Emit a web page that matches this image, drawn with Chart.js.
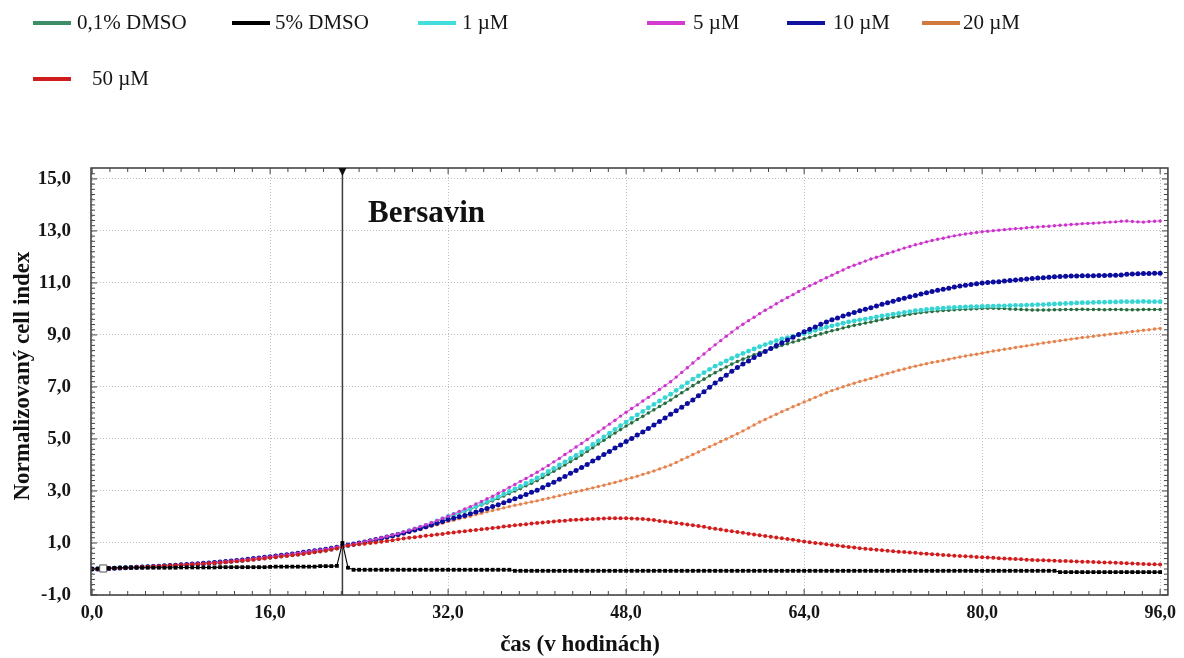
<!DOCTYPE html>
<html>
<head>
<meta charset="utf-8">
<script src="https://cdn.jsdelivr.net/npm/chart.js@4.4.1/dist/chart.umd.min.js"></script>
<style>
  html, body { margin: 0; padding: 0; background: #fff; }
  #wrap { position: relative; width: 1184px; height: 658px; overflow: hidden; }
  #graf { position: absolute; left: 0; top: 0; }
  .leg-line { position: absolute; width: 38px; height: 4px; }
  .leg-text { position: absolute; font-family: "Liberation Serif", "Times New Roman", serif;
              font-size: 21px; line-height: 22px; color: #151515; white-space: nowrap; }
</style>
</head>
<body>
<div id="wrap">
  <canvas id="graf" width="1184" height="658"></canvas>
</div>
<script>
// cas merania (hodiny)
var casy = [
  0, 0.5, 1, 1.5, 2, 2.5, 3, 3.5, 4, 4.5, 5, 5.5, 6, 6.5, 7, 7.5,
  8, 8.5, 9, 9.5, 10, 10.5, 11, 11.5, 12, 12.5, 13, 13.5, 14, 14.5, 15, 15.5,
  16, 16.5, 17, 17.5, 18, 18.5, 19, 19.5, 20, 20.5, 21, 21.5, 22, 22.5, 23, 23.5,
  24, 24.5, 25, 25.5, 26, 26.5, 27, 27.5, 28, 28.5, 29, 29.5, 30, 30.5, 31, 31.5,
  32, 32.5, 33, 33.5, 34, 34.5, 35, 35.5, 36, 36.5, 37, 37.5, 38, 38.5, 39, 39.5,
  40, 40.5, 41, 41.5, 42, 42.5, 43, 43.5, 44, 44.5, 45, 45.5, 46, 46.5, 47, 47.5,
  48, 48.5, 49, 49.5, 50, 50.5, 51, 51.5, 52, 52.5, 53, 53.5, 54, 54.5, 55, 55.5,
  56, 56.5, 57, 57.5, 58, 58.5, 59, 59.5, 60, 60.5, 61, 61.5, 62, 62.5, 63, 63.5,
  64, 64.5, 65, 65.5, 66, 66.5, 67, 67.5, 68, 68.5, 69, 69.5, 70, 70.5, 71, 71.5,
  72, 72.5, 73, 73.5, 74, 74.5, 75, 75.5, 76, 76.5, 77, 77.5, 78, 78.5, 79, 79.5,
  80, 80.5, 81, 81.5, 82, 82.5, 83, 83.5, 84, 84.5, 85, 85.5, 86, 86.5, 87, 87.5,
  88, 88.5, 89, 89.5, 90, 90.5, 91, 91.5, 92, 92.5, 93, 93.5, 94, 94.5, 95, 95.5,
  96
];

// 0,1% DMSO
var dmso01 = [
  0.00,0.00,0.01,0.02,0.03,0.04,0.05,0.06,0.07,0.08,0.09,0.10,0.11,0.12,0.13,0.14,
  0.15,0.16,0.18,0.19,0.21,0.22,0.24,0.25,0.27,0.29,0.31,0.33,0.35,0.37,0.40,0.42,
  0.45,0.47,0.50,0.52,0.55,0.57,0.60,0.63,0.66,0.69,0.72,0.76,0.80,0.86,
  0.90,0.94,0.98,
  1.02,1.06,1.10,1.15, 1.20,1.26,1.32,1.38, 1.45,1.52,1.59,1.66, 1.74,1.83,1.91,2.00,
  2.07,2.15,2.22,2.30, 2.38,2.46,2.54,2.62, 2.71,2.81,2.90,3.00, 3.10,3.20,3.30,3.40,
  3.52,3.64,3.76,3.88, 4.00,4.13,4.25,4.38, 4.52,4.66,4.81,4.95, 5.09,5.23,5.36,5.50,
  5.62,5.75,5.87,6.00, 6.12,6.25,6.37,6.50, 6.64,6.78,6.91,7.05, 7.18,7.30,7.43,7.55,
  7.66,7.77,7.88,7.98, 8.07,8.15,8.24,8.32, 8.39,8.46,8.53,8.60, 8.66,8.73,8.79,8.85,
  8.91,8.98,9.04,9.10, 9.16,9.21,9.27,9.32, 9.37,9.41,9.46,9.50, 9.55,9.59,9.64,9.68,
  9.72,9.76,9.80,9.83, 9.86,9.88,9.90,9.92, 9.94,9.95,9.97,9.98, 9.99,10.00,10.01,10.02,
  10.03,10.03,10.02,10.02, 10.00,9.99,9.98,9.97, 9.96,9.96,9.96,9.96, 9.97,9.97,9.98,9.98,
  9.98,9.99,9.98,9.98, 9.98,9.97,9.98,9.98, 9.98,9.97,9.97,9.97, 9.98,9.98,9.98,9.98
];

// 5% DMSO
var dmso5 = [
  0.00,0.01,0.02,0.03,0.04,0.05,0.05,0.05,0.05,0.05,0.05,0.05,0.05,0.05,0.05,0.05,
  0.06,0.06,0.06,0.06,0.06,0.06,0.06,0.07,0.07,0.07,0.07,0.07,0.07,0.07,0.07,0.07,
  0.08,0.09,0.09,0.09,0.09,0.09,0.09,0.09,0.09,0.11,0.11,0.11,0.12,1.00,
  0.05,
  -0.03,-0.03,-0.03,-0.03,-0.03,-0.03,-0.03,-0.03,-0.03,-0.03,
  -0.03,-0.03,-0.03,-0.03,-0.03,-0.03,-0.03,-0.03,-0.03,-0.03,
  -0.03,-0.03,-0.03,-0.03,-0.03,-0.03,-0.03,-0.03,-0.03,
  -0.07,-0.07,-0.07,-0.07,-0.07,-0.07,-0.07,-0.07,-0.07,-0.07,-0.07,-0.07,-0.07,-0.07,
  -0.07,-0.07,-0.07,-0.07,-0.07,-0.07,-0.07,-0.07,-0.07,-0.07,-0.07,-0.07,-0.07,-0.07,
  -0.07,-0.07,-0.07,-0.07,-0.07,-0.07,-0.07,-0.07,-0.07,-0.07,-0.07,-0.07,-0.07,-0.07,
  -0.07,-0.07,-0.07,-0.07,-0.07,-0.07,-0.07,-0.07,-0.07,-0.07,-0.07,-0.07,-0.07,-0.07,
  -0.07,-0.07,-0.07,-0.07,-0.07,-0.07,-0.07,-0.07,-0.07,-0.07,-0.07,-0.07,-0.07,-0.07,
  -0.07,-0.07,-0.07,-0.07,-0.07,-0.07,-0.07,-0.07,-0.07,-0.07,-0.07,-0.07,-0.07,-0.07,
  -0.07,-0.07,-0.07,-0.07,-0.07,-0.07,-0.07,-0.07,-0.07,-0.07,-0.07,-0.07,-0.07,-0.07,
  -0.12,-0.12,-0.12,-0.12,-0.12,-0.12,-0.12,-0.12,-0.12,-0.12,
  -0.12,-0.12,-0.12,-0.12,-0.12,-0.12,-0.12,-0.12,-0.12
];

// 1 µM
var c1 = [
  0.00,0.00,0.01,0.02,0.03,0.04,0.05,0.06,0.07,0.08,0.09,0.10,0.11,0.12,0.13,0.14,
  0.15,0.16,0.18,0.19,0.21,0.22,0.24,0.25,0.27,0.29,0.31,0.33,0.35,0.37,0.40,0.42,
  0.45,0.47,0.50,0.52,0.55,0.57,0.60,0.63,0.66,0.69,0.72,0.76,0.80,0.86,
  0.90,0.94,0.98,
  1.02,1.06,1.11,1.16, 1.22,1.28,1.34,1.40, 1.47,1.54,1.61,1.68, 1.76,1.85,1.93,2.02,
  2.10,2.17,2.25,2.33, 2.41,2.50,2.59,2.68, 2.78,2.88,2.98,3.08, 3.18,3.29,3.39,3.50,
  3.62,3.75,3.87,4.00, 4.12,4.25,4.37,4.50, 4.64,4.79,4.93,5.08, 5.22,5.37,5.51,5.65,
  5.79,5.93,6.06,6.20, 6.33,6.46,6.59,6.72, 6.87,7.01,7.16,7.30, 7.43,7.55,7.68,7.80,
  7.90,8.00,8.10,8.20, 8.29,8.38,8.46,8.55, 8.63,8.70,8.78,8.85, 8.90,8.95,9.00,9.05,
  9.11,9.18,9.24,9.30, 9.35,9.40,9.45,9.50, 9.54,9.58,9.61,9.65, 9.69,9.73,9.76,9.80,
  9.83,9.87,9.90,9.93, 9.95,9.98,10.00,10.02, 10.03,10.05,10.06,10.07, 10.08,10.09,10.09,10.10,
  10.11,10.11,10.12,10.12, 10.13,10.14,10.14,10.15, 10.16,10.17,10.17,10.18, 10.19,10.20,10.21,10.22,
  10.23,10.24,10.24,10.25, 10.26,10.26,10.27,10.27, 10.28,10.28,10.28,10.28, 10.29,10.28,10.28,10.28
];

// 5 µM
var c5 = [
  0.00,0.00,0.01,0.02,0.03,0.04,0.05,0.06,0.07,0.08,0.09,0.10,0.11,0.12,0.13,0.14,
  0.16,0.17,0.19,0.20,0.22,0.23,0.25,0.27,0.29,0.31,0.33,0.35,0.37,0.40,0.42,0.45,
  0.47,0.50,0.53,0.55,0.58,0.61,0.64,0.67,0.70,0.73,0.76,0.80,0.84,0.88,
  0.92,0.96,1.00,
  1.05,1.10,1.15,1.20, 1.25,1.31,1.36,1.42, 1.49,1.56,1.63,1.70, 1.78,1.86,1.95,2.03,
  2.12,2.21,2.31,2.40, 2.50,2.60,2.70,2.80, 2.91,3.02,3.14,3.25, 3.37,3.48,3.60,3.72,
  3.85,3.98,4.12,4.25, 4.40,4.54,4.69,4.83, 4.98,5.13,5.27,5.42, 5.57,5.72,5.88,6.03,
  6.17,6.31,6.46,6.60, 6.75,6.90,7.05,7.20, 7.38,7.56,7.74,7.92, 8.10,8.27,8.45,8.62,
  8.78,8.95,9.11,9.27, 9.41,9.55,9.68,9.82, 9.95,10.07,10.20,10.32, 10.44,10.55,10.67,10.78,
  10.89,10.99,11.10,11.20, 11.30,11.40,11.50,11.60, 11.68,11.76,11.84,11.92, 11.99,12.06,12.13,12.20,
  12.27,12.34,12.40,12.47, 12.52,12.58,12.63,12.68, 12.72,12.77,12.81,12.85, 12.88,12.91,12.94,12.97,
  12.99,13.01,13.03,13.05, 13.07,13.09,13.10,13.12, 13.14,13.15,13.17,13.18, 13.20,13.22,13.23,13.25,
  13.26,13.28,13.29,13.30, 13.31,13.33,13.34,13.35, 13.37,13.38,13.36,13.35, 13.34,13.36,13.37,13.38
];

// 10 µM
var c10 = [
  0.00,0.00,0.01,0.02,0.03,0.04,0.05,0.06,0.07,0.08,0.09,0.10,0.11,0.12,0.13,0.14,
  0.16,0.17,0.19,0.20,0.22,0.23,0.25,0.27,0.29,0.31,0.33,0.35,0.37,0.40,0.42,0.45,
  0.47,0.50,0.53,0.55,0.58,0.61,0.64,0.67,0.70,0.73,0.76,0.80,0.84,0.88,
  0.92,0.96,1.00,
  1.04,1.09,1.13,1.18, 1.23,1.28,1.33,1.38, 1.44,1.50,1.56,1.62, 1.69,1.76,1.83,1.90,
  1.95,2.01,2.06,2.12, 2.19,2.26,2.33,2.40, 2.47,2.55,2.62,2.70, 2.78,2.86,2.95,3.03,
  3.13,3.24,3.34,3.45, 3.56,3.68,3.79,3.90, 4.02,4.15,4.27,4.40, 4.52,4.65,4.77,4.90,
  5.02,5.15,5.27,5.40, 5.54,5.67,5.81,5.95, 6.09,6.22,6.36,6.50, 6.66,6.82,6.99,7.15,
  7.30,7.45,7.60,7.75, 7.88,8.00,8.13,8.25, 8.36,8.48,8.59,8.70, 8.81,8.91,9.02,9.12,
  9.22,9.31,9.41,9.50, 9.58,9.65,9.73,9.80, 9.86,9.93,9.99,10.05, 10.11,10.18,10.24,10.30,
  10.36,10.41,10.47,10.52, 10.57,10.62,10.67,10.72, 10.76,10.80,10.84,10.88, 10.91,10.94,10.97,11.00,
  11.02,11.04,11.05,11.07, 11.09,11.11,11.13,11.15, 11.17,11.19,11.20,11.22, 11.24,11.25,11.26,11.27,
  11.27,11.28,11.28,11.28, 11.29,11.29,11.30,11.30, 11.31,11.33,11.34,11.35, 11.36,11.36,11.37,11.37
];

// 20 µM
var c20 = [
  0.00,0.00,0.01,0.02,0.03,0.04,0.05,0.06,0.07,0.08,0.09,0.10,0.11,0.12,0.13,0.14,
  0.15,0.16,0.18,0.19,0.21,0.22,0.24,0.25,0.27,0.29,0.31,0.33,0.35,0.37,0.40,0.42,
  0.45,0.47,0.50,0.52,0.55,0.57,0.60,0.63,0.66,0.69,0.72,0.76,0.80,0.86,
  0.90,0.93,0.97,
  1.01,1.06,1.10,1.15, 1.20,1.25,1.30,1.35, 1.41,1.47,1.52,1.58, 1.64,1.70,1.76,1.82,
  1.87,1.93,1.98,2.03, 2.09,2.14,2.20,2.25, 2.30,2.35,2.40,2.45, 2.49,2.54,2.58,2.62,
  2.67,2.72,2.77,2.82, 2.87,2.92,2.97,3.02, 3.07,3.12,3.17,3.22, 3.28,3.33,3.39,3.45,
  3.51,3.57,3.64,3.70, 3.77,3.85,3.92,4.00, 4.10,4.20,4.30,4.40, 4.50,4.60,4.70,4.80,
  4.90,5.00,5.10,5.20, 5.31,5.42,5.54,5.65, 5.75,5.85,5.95,6.05, 6.14,6.24,6.33,6.42,
  6.51,6.60,6.69,6.78, 6.86,6.93,7.01,7.08, 7.14,7.21,7.27,7.33, 7.39,7.46,7.52,7.58,
  7.64,7.69,7.75,7.80, 7.85,7.89,7.94,7.98, 8.02,8.07,8.11,8.15, 8.19,8.23,8.26,8.30,
  8.34,8.38,8.41,8.45, 8.48,8.52,8.55,8.58, 8.62,8.65,8.69,8.72, 8.75,8.78,8.81,8.84,
  8.87,8.90,8.92,8.95, 8.98,9.00,9.03,9.05, 9.08,9.10,9.13,9.15, 9.18,9.20,9.23,9.25
];

// 50 µM
var c50 = [
  0.00,0.00,0.01,0.02,0.03,0.04,0.05,0.06,0.07,0.08,0.09,0.10,0.11,0.12,0.13,0.14,
  0.15,0.16,0.17,0.18,0.20,0.21,0.23,0.24,0.26,0.28,0.30,0.32,0.34,0.36,0.38,0.40,
  0.43,0.45,0.48,0.50,0.53,0.55,0.58,0.61,0.64,0.67,0.70,0.74,0.79,0.86,
  0.89,0.92,0.95,
  0.97,1.00,1.02,1.05, 1.08,1.11,1.14,1.17, 1.20,1.22,1.25,1.28, 1.30,1.33,1.35,1.38,
  1.40,1.43,1.45,1.48, 1.50,1.53,1.55,1.58, 1.60,1.63,1.65,1.68, 1.70,1.72,1.75,1.77,
  1.79,1.81,1.83,1.85, 1.86,1.88,1.89,1.90, 1.91,1.92,1.93,1.94, 1.95,1.95,1.95,1.95,
  1.94,1.93,1.92,1.90, 1.88,1.85,1.83,1.80, 1.77,1.74,1.71,1.68, 1.65,1.62,1.58,1.55,
  1.52,1.48,1.45,1.42, 1.39,1.36,1.33,1.30, 1.27,1.24,1.21,1.18, 1.15,1.12,1.09,1.06,
  1.03,1.00,0.98,0.95, 0.92,0.90,0.87,0.85, 0.83,0.80,0.78,0.76, 0.74,0.72,0.70,0.68,
  0.66,0.65,0.63,0.62, 0.60,0.59,0.57,0.56, 0.54,0.53,0.51,0.50, 0.49,0.48,0.46,0.45,
  0.44,0.43,0.41,0.40, 0.39,0.38,0.37,0.36, 0.35,0.34,0.34,0.33, 0.32,0.31,0.31,0.30,
  0.29,0.28,0.28,0.27, 0.26,0.25,0.25,0.24, 0.23,0.22,0.21,0.20, 0.19,0.18,0.18,0.17
];

var nazvy = ['0,1% DMSO', '5% DMSO', '1 \u00b5M', '5 \u00b5M', '10 \u00b5M', '20 \u00b5M', '50 \u00b5M'];
var xTicky = [0, 16, 32, 48, 64, 80, 96];
var yTicky = [-1, 1, 3, 5, 7, 9, 11, 13, 15];
var casBersavin = 22.5;

// vzhlad kriviek: farba ciary, farba bodu, velkost, tvar, poradie kreslenia
var styly = [
  { ciara: '#4a9468', bod: '#2b6a40', r: 1.8, tvar: 'circle', leg: '#3f8c68', por: 5 },
  { ciara: '#000000', bod: '#000000', r: 2.7, tvar: 'rect', leg: '#000000', por: 0 },
  { ciara: '#5fe6e6', bod: '#38d4d4', r: 2.4, tvar: 'circle', leg: '#42dede', por: 4 },
  { ciara: '#e36ae3', bod: '#c935c9', r: 1.7, tvar: 'circle', leg: '#d23ad2', por: 2 },
  { ciara: '#2020b8', bod: '#0c0c9c', r: 2.5, tvar: 'circle', leg: '#1212a0', por: 3 },
  { ciara: '#f2a57a', bod: '#e2824e', r: 1.7, tvar: 'circle', leg: '#d27a3c', por: 6 },
  { ciara: '#e85a5a', bod: '#d01c1c', r: 2.0, tvar: 'circle', leg: '#cf1c1c', por: 1 }
];
var serie = [dmso01, dmso5, c1, c5, c10, c20, c50];

// legenda nad grafom: [x ciary, y stredu, x textu]
var legPoz = [[33, 23, 77], [232, 23, 275], [418, 23, 462], [647, 23, 693], [787, 23, 833], [922, 23, 963], [33, 79, 92]];

var wrap = document.getElementById('wrap');
for (var i = 0; i < nazvy.length; i++) {
  var l = document.createElement('div');
  l.className = 'leg-line';
  l.style.left = legPoz[i][0] + 'px';
  l.style.top = (legPoz[i][1] - 2) + 'px';
  l.style.background = styly[i].leg;
  wrap.appendChild(l);
  var t = document.createElement('div');
  t.className = 'leg-text';
  t.style.left = legPoz[i][2] + 'px';
  t.style.top = (legPoz[i][1] - 12) + 'px';
  t.textContent = nazvy[i];
  wrap.appendChild(t);
}

function body(hodnoty) {
  var out = [];
  for (var k = 0; k < casy.length; k++) out.push({ x: casy[k], y: hodnoty[k] });
  return out;
}

var datasets = [];
for (var i = 0; i < serie.length; i++) {
  datasets.push({
    label: nazvy[i],
    data: body(serie[i]),
    order: styly[i].por,
    borderColor: styly[i].ciara,
    borderWidth: 1.1,
    backgroundColor: styly[i].bod,
    pointBackgroundColor: styly[i].bod,
    pointBorderWidth: 0,
    pointRadius: styly[i].r,
    pointStyle: styly[i].tvar,
    tension: 0
  });
}
// oznaceny bod na zaciatku merania - biely stvorcek
var oznaceny = 2;
datasets[1].pointRadius = function (c) { return c.dataIndex === oznaceny ? 5 : 2.7; };
datasets[1].pointBackgroundColor = function (c) { return c.dataIndex === oznaceny ? '#ffffff' : '#000000'; };
datasets[1].pointBorderWidth = function (c) { return c.dataIndex === oznaceny ? 1 : 0; };
datasets[1].pointBorderColor = '#555';

var serif = '"Liberation Serif", "Times New Roman", serif';
function ciarka(v) { return v.toFixed(1).replace('.', ','); }

var doplnky = {
  id: 'doplnky',
  beforeDatasetsDraw: function (chart) {
    var ctx = chart.ctx, a = chart.chartArea, x = chart.scales.x;
    var px = x.getPixelForValue(casBersavin);
    ctx.save();
    ctx.strokeStyle = '#3c3c3c';
    ctx.lineWidth = 1.5;
    ctx.beginPath();
    ctx.moveTo(px, a.top);
    ctx.lineTo(px, a.bottom);
    ctx.stroke();
    ctx.restore();
  },
  afterDraw: function (chart) {
    var ctx = chart.ctx, a = chart.chartArea, x = chart.scales.x, y = chart.scales.y;
    ctx.save();
    // ramik
    ctx.strokeStyle = '#3a3a3a';
    ctx.lineWidth = 1.5;
    ctx.strokeRect(a.left, a.top, a.right - a.left, a.bottom - a.top);
    // drobne ciarky dovnutra
    ctx.lineWidth = 1;
    ctx.strokeStyle = '#444';
    ctx.beginPath();
    for (var n = 0; n <= 60; n++) {
      var px = x.getPixelForValue(n * 1.6);
      var d = (n % 10 === 0) ? 6 : 4;
      ctx.moveTo(px, a.bottom); ctx.lineTo(px, a.bottom - d);
      ctx.moveTo(px, a.top); ctx.lineTo(px, a.top + d);
    }
    for (var m = 0; m <= 82; m++) {
      var v = -1 + m * 0.2;
      if (v > 15.4) break;
      var py = y.getPixelForValue(v);
      var e = (m % 10 === 0) ? 6 : 4;
      ctx.moveTo(a.left, py); ctx.lineTo(a.left + e, py);
      ctx.moveTo(a.right, py); ctx.lineTo(a.right - e, py);
    }
    ctx.stroke();
    // znacka pridania latky
    var bx = x.getPixelForValue(casBersavin);
    ctx.fillStyle = '#111';
    ctx.beginPath();
    ctx.moveTo(bx - 4, a.top);
    ctx.lineTo(bx + 4, a.top);
    ctx.lineTo(bx, a.top + 8);
    ctx.closePath();
    ctx.fill();
    ctx.font = 'bold 31px ' + serif;
    ctx.textBaseline = 'alphabetic';
    ctx.textAlign = 'left';
    ctx.fillText('Bersavin', 368, 222);
    // popisy osi
    ctx.font = 'bold 23px ' + serif;
    ctx.textAlign = 'center';
    ctx.textBaseline = 'middle';
    ctx.fillText('\u010das (v hodin\u00e1ch)', 580, 645);
    ctx.translate(23, 376);
    ctx.rotate(-Math.PI / 2);
    ctx.font = 'bold 23px ' + serif;
    ctx.fillText('Normalizovan\u00fd cell index', 0, 0);
    ctx.restore();
  }
};

new Chart(document.getElementById('graf'), {
  type: 'line',
  data: { datasets: datasets },
  plugins: [doplnky],
  options: {
    responsive: false,
    animation: false,
    events: [],
    layout: { padding: { top: 168, right: 16, bottom: 0, left: 0 } },
    plugins: {
      legend: { display: false },
      tooltip: { enabled: false }
    },
    scales: {
      x: {
        type: 'linear',
        min: -0.1,
        max: 96.7,
        afterBuildTicks: function (s) { s.ticks = xTicky.map(function (v) { return { value: v }; }); },
        afterFit: function (s) { s.height = 63; },
        ticks: {
          autoSkip: false,
          maxRotation: 0,
          padding: 8,
          color: '#151515',
          font: { family: serif, size: 18, weight: 'bold' },
          callback: function (v) { return ciarka(v); }
        },
        grid: { color: '#bdbdbd', lineWidth: 1, drawTicks: false },
        border: { display: false, dash: [1, 2] }
      },
      y: {
        min: -1,
        max: 15.42,
        afterBuildTicks: function (s) { s.ticks = yTicky.map(function (v) { return { value: v }; }); },
        afterFit: function (s) { s.width = 91; },
        ticks: {
          autoSkip: false,
          padding: 20,
          color: '#151515',
          font: { family: serif, size: 19, weight: 'bold' },
          callback: function (v) { return ciarka(v); }
        },
        grid: { color: '#bdbdbd', lineWidth: 1, drawTicks: false },
        border: { display: false, dash: [1, 2] }
      }
    }
  }
});
</script>
</body>
</html>
